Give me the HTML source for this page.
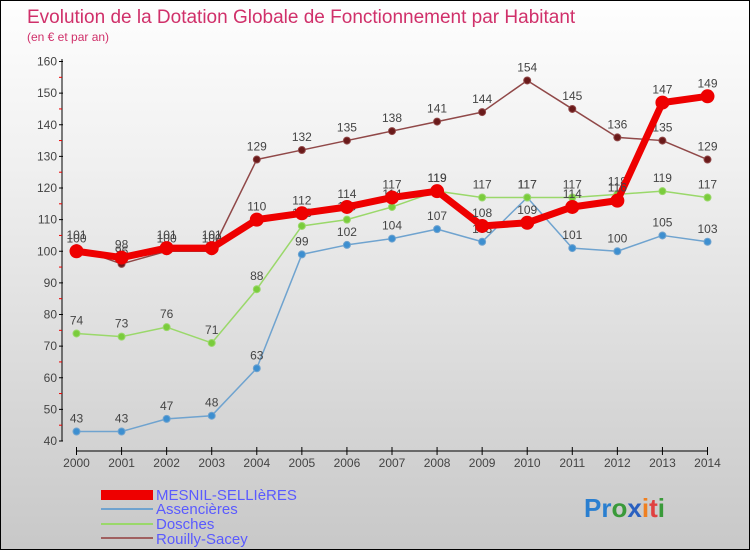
<!DOCTYPE html>
<html><head><meta charset="utf-8"><style>
body{margin:0}
#c{position:relative;width:750px;height:550px;box-sizing:border-box;border:1px solid #000;background:linear-gradient(#fefefe,#f0f0f0 30%,#c8c8c8);font-family:"Liberation Sans",sans-serif;overflow:hidden}
text{font-family:"Liberation Sans",sans-serif}
</style></head><body>
<div id="c">
<svg id="s" width="750" height="550" style="position:absolute;left:0;top:0">
<text x="26" y="22" font-size="19" fill="#d0306a">Evolution de la Dotation Globale de Fonctionnement par Habitant</text>
<text x="26" y="40" font-size="12" fill="#d0306a">(en € et par an)</text>
<g id="g"></g>
<g>
<rect x="100" y="489" width="52" height="10" fill="#e00"/>
<text x="155" y="499" font-size="15" fill="#5a5aff">MESNIL-SELLIèRES</text>
<line x1="100" y1="508" x2="152" y2="508" stroke="#6fa3cf" stroke-width="2"/>
<text x="155" y="513" font-size="15" fill="#5a5aff">Assencières</text>
<line x1="100" y1="523" x2="152" y2="523" stroke="#9ad86a" stroke-width="2"/>
<text x="155" y="528" font-size="15" fill="#5a5aff">Dosches</text>
<line x1="100" y1="537" x2="152" y2="537" stroke="#a06060" stroke-width="2"/>
<text x="155" y="543" font-size="15" fill="#5a5aff">Rouilly-Sacey</text>
</g>
<g font-size="26" font-weight="bold">
<text x="583" y="516"><tspan fill="#2a7fd0">Pr</tspan><tspan fill="#3a9a3a">o</tspan><tspan fill="#2a60c0">x</tspan><tspan fill="#f08020">i</tspan><tspan fill="#e04040">t</tspan><tspan fill="#3a9a3a">i</tspan></text>
</g>
</svg>
</div>
<script>
const years=[2000,2001,2002,2003,2004,2005,2006,2007,2008,2009,2010,2011,2012,2013,2014];
const yTicks=[40,50,60,70,80,90,100,110,120,130,140,150,160];
const mesnil=[100,98,101,101,110,112,114,117,119,108,109,114,116,147,149];
const assencieres=[43,43,47,48,63,99,102,104,107,103,117,101,100,105,103];
const dosches=[74,73,76,71,88,108,110,114,119,117,117,117,118,119,117];
const rouilly=[101,96,100,100,129,132,135,138,141,144,154,145,136,135,129];
const NS="http://www.w3.org/2000/svg",g=document.getElementById('g');
const X=i=>75.5+i*(706.5-75.5)/(years.length-1);
const Y=v=>440-(v-40)*(440-60.5)/120;
function el(t,a,p){const e=document.createElementNS(NS,t);for(const k in a)e.setAttribute(k,a[k]);(p||g).appendChild(e);return e;}
let ax=el('line',{x1:61,y1:58,x2:61,y2:440,stroke:'#000','stroke-width':1});


let bx=el('line',{x1:75,y1:450,x2:707,y2:450,stroke:'#000','stroke-width':1});


yTicks.forEach((v,i)=>{
 el('line',{x1:58,y1:Y(v),x2:62,y2:Y(v),stroke:'#000'});
 if(i<yTicks.length-1)el('line',{x1:58,y1:Y(v+5),x2:61,y2:Y(v+5),stroke:'#e00'});
 const t=el('text',{x:56,y:Y(v)+4,'font-size':12,fill:'#444','text-anchor':'end'});t.textContent=v;
 
 
});
years.forEach((y,i)=>{
 el('line',{x1:X(i),y1:446,x2:X(i),y2:454,stroke:'#000'});
 const t=el('text',{x:X(i),y:466,'font-size':12,fill:'#444','text-anchor':'middle'});t.textContent=y;
 
 
});
function series(d,name,col,dot,w,r){
 const p=el('polyline',{points:d.map((v,i)=>X(i)+','+Y(v)).join(' '),fill:'none',stroke:col,'stroke-width':w,'stroke-linejoin':'round'});
 
 
 d.forEach((v,i)=>{
  const c=el('circle',{cx:X(i),cy:Y(v),r:r,fill:dot,stroke:col,'stroke-width':1});
  
  
  const t=el('text',{x:X(i),y:Y(v)-9,'font-size':12,fill:'#444','text-anchor':'middle'});t.textContent=v;
  
  
 });
}
series(assencieres,'assencieres','#6fa3cf','#3d8fd0',1.5,3.5);
series(dosches,'dosches','#9ad86a','#7acc3c',1.5,3.5);
series(rouilly,'rouilly','#904848','#6a1a1a',1.5,3.5);
series(mesnil,'mesnil','#ee0000','#ee0000',7,6.5);
</script>
</body></html>
